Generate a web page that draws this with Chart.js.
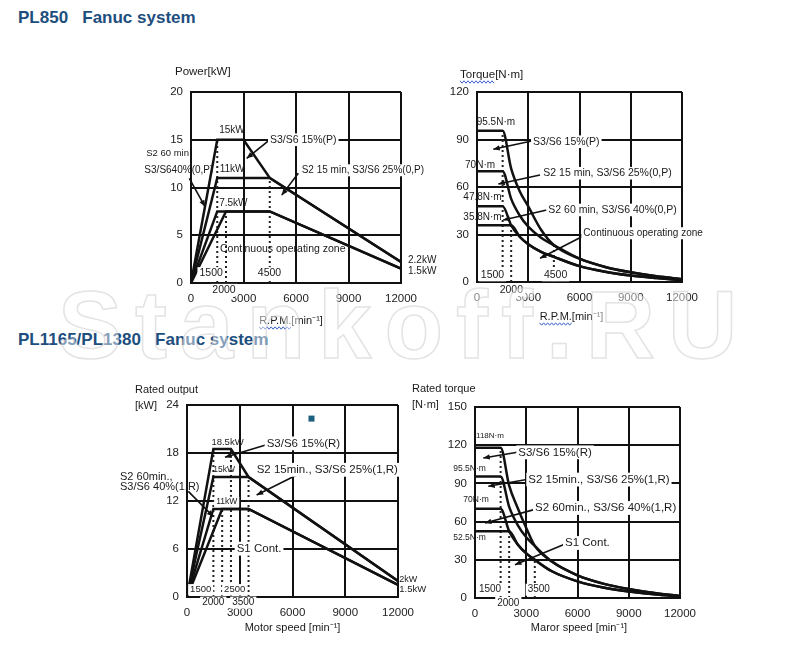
<!DOCTYPE html>
<html>
<head>
<meta charset="utf-8">
<script src="https://cdn.jsdelivr.net/npm/chart.js@4.4.1/dist/chart.umd.min.js"></script>
<style>
  html, body { margin: 0; padding: 0; background: #fff; }
  body { width: 808px; height: 663px; position: relative; overflow: hidden; font-family: "Liberation Sans", Arial, sans-serif; }
  .title { position: absolute; left: 18px; font-weight: bold; font-size: 17px; line-height: 20px; color: #1d4e7e; white-space: pre; }
  canvas { position: absolute; }
  .watermark { position: absolute; left: 58px; top: 277px; font: bold 96px "Liberation Sans", Arial, sans-serif; letter-spacing: 13px;
    line-height: 1; color: rgba(255,255,255,0.45); -webkit-text-stroke: 1.5px rgba(200,200,200,0.5); pointer-events: none; white-space: pre; }
</style>
</head>
<body>
<div class="title" style="top:8px">PL850   Fanuc system</div>
<div class="title" style="top:330px">PL1165/PL1380   Fanuc system</div>
<canvas id="pl850Power"></canvas>
<canvas id="pl850Torque"></canvas>
<canvas id="pl1165Power"></canvas>
<canvas id="pl1165Torque"></canvas>
<div class="watermark">Stankoff.RU</div>
<script>
// ---- tick labels ----
const rpmTicks = [0, 3000, 6000, 9000, 12000];
const pl850PowerTicks = [0, 5, 10, 15, 20];
const pl850TorqueTicks = [0, 30, 60, 90, 120];
const pl1165PowerTicks = [0, 6, 12, 18, 24];
const pl1165TorqueTicks = [0, 30, 60, 90, 120, 150];

// ---- PL850 power [rpm, kW] ----
const pl850PowerS3_15 = [[0, 0], [1500, 15], [3000, 15], [4500, 11], [12000, 2.2]];
const pl850PowerS2_15 = [[0, 0], [1500, 11], [4500, 11], [12000, 2.2]];
const pl850PowerS2_60 = [[0, 0], [1500, 7.5], [4500, 7.5], [12000, 1.5]];
const pl850PowerCont = [[0, 0], [2000, 7.5], [4500, 7.5], [12000, 1.5]];
const pl850PowerDrops = [[1500, 15], [2000, 7.5], [4500, 11]];

// ---- PL850 torque [rpm, N·m] ----
const pl850TorqueS3_15 = [[0, 95.5], [1500, 95.5], [2000, 71.6], [2500, 57.3], [3000, 47.7], [3750, 33], [4500, 23.3], [6000, 14.7], [7500, 9.5], [9000, 6.1], [10500, 3.6], [12000, 1.8]];
const pl850TorqueS2_15 = [[0, 70], [1500, 70], [2000, 52.5], [2500, 42], [3000, 35], [3750, 28], [4500, 23.3], [6000, 14.7], [7500, 9.5], [9000, 6.1], [10500, 3.6], [12000, 1.8]];
const pl850TorqueS2_60 = [[0, 47.8], [1500, 47.8], [2000, 35.8], [2500, 28.6], [3000, 23.9], [3750, 19.1], [4500, 15.9], [6000, 10], [7500, 6.5], [9000, 4.1], [10500, 2.5], [12000, 1.2]];
const pl850TorqueCont = [[0, 35.8], [2000, 35.8], [2500, 28.6], [3000, 23.9], [3750, 19.1], [4500, 15.9], [6000, 10], [7500, 6.5], [9000, 4.1], [10500, 2.5], [12000, 1.2]];
const pl850TorqueDrops = [[1500, 95.5], [2000, 35.8], [4500, 23]];

// ---- PL1165/PL1380 power [rpm, kW] ----
const pl1165PowerS3_15 = [[0, 0], [1500, 18.5], [2500, 18.5], [3500, 15], [12000, 2]];
const pl1165PowerS2_15 = [[0, 0], [1500, 15], [3500, 15], [12000, 2]];
const pl1165PowerS2_60 = [[0, 0], [1500, 11], [3500, 11], [12000, 1.5]];
const pl1165PowerS1 = [[0, 0], [2000, 11], [3500, 11], [12000, 1.5]];
const pl1165PowerDrops = [[1500, 18.5], [2000, 11], [2500, 18.5], [3500, 15]];

// ---- PL1165/PL1380 torque [rpm, N·m] ----
const pl1165TorqueS3_15 = [[0, 118], [1500, 118], [2000, 88.3], [2500, 70.7], [3000, 55], [3500, 40.9], [4500, 28.6], [6000, 17.8], [7500, 11.3], [9000, 7], [10500, 3.9], [12000, 1.6]];
const pl1165TorqueS2_15 = [[0, 95.5], [1500, 95.5], [2000, 71.6], [2500, 57.3], [3000, 47.7], [3500, 40.9], [4500, 28.6], [6000, 17.8], [7500, 11.3], [9000, 7], [10500, 3.9], [12000, 1.6]];
const pl1165TorqueS2_60 = [[0, 70], [1500, 70], [2000, 52.5], [2500, 42], [3000, 35], [3500, 30], [4500, 21], [6000, 13.1], [7500, 8.3], [9000, 5.1], [10500, 2.9], [12000, 1.2]];
const pl1165TorqueS1 = [[0, 52.5], [2000, 52.5], [2500, 42], [3000, 35], [3500, 30], [4500, 21], [6000, 13.1], [7500, 8.3], [9000, 5.1], [10500, 2.9], [12000, 1.2]];
const pl1165TorqueDrops = [[1500, 118], [2000, 52.5], [3500, 30]];

const FONT = '"Liberation Sans", Arial, sans-serif';

function curve(points, smooth) {
    return {
        data: points.map(p => ({ x: p[0], y: p[1] })),
        borderColor: '#111',
        borderWidth: 2.5,
        pointRadius: 0,
        fill: false,
        tension: 0,
        cubicInterpolationMode: smooth ? 'monotone' : 'default'
    };
}

function dropLines(marks) {
    return marks.map(m => ({
        data: [{ x: m[0], y: 0 }, { x: m[0], y: m[1] }],
        borderColor: '#222',
        borderWidth: 2,
        borderDash: [2, 3],
        pointRadius: 0,
        fill: false
    }));
}

// Text, arrows and axis titles drawn on top of the plot, positioned in data units
const overlay = {
    id: 'overlay',
    afterDatasetsDraw(chart, args, o) {
        const { ctx, chartArea: a } = chart;
        const px = v => chart.scales.x.getPixelForValue(v);
        const py = v => chart.scales.y.getPixelForValue(v);
        ctx.save();

        (o.arrows || []).forEach(([x0, y0, x1, y1]) => {
            const X0 = px(x0), Y0 = py(y0), X1 = px(x1), Y1 = py(y1);
            ctx.strokeStyle = '#111';
            ctx.lineWidth = 1.6;
            ctx.beginPath();
            ctx.moveTo(X0, Y0);
            ctx.lineTo(X1, Y1);
            ctx.stroke();
            const ang = Math.atan2(Y1 - Y0, X1 - X0), h = 7;
            ctx.beginPath();
            ctx.moveTo(X1, Y1);
            ctx.lineTo(X1 - h * Math.cos(ang - 0.4), Y1 - h * Math.sin(ang - 0.4));
            ctx.lineTo(X1 - h * Math.cos(ang + 0.4), Y1 - h * Math.sin(ang + 0.4));
            ctx.closePath();
            ctx.fillStyle = '#111';
            ctx.fill();
        });

        (o.marker || []).forEach(([mx, my]) => {
            ctx.fillStyle = '#1c5f7e';
            ctx.fillRect(px(mx) - 3, py(my) - 3, 6, 6);
        });

        (o.labels || []).forEach(l => {
            const size = l.size || 10.5;
            ctx.font = size + 'px ' + FONT;
            ctx.textAlign = l.align || 'left';
            ctx.textBaseline = 'middle';
            const X = px(l.x), Y = py(l.y);
            if (l.bg) {
                const w = ctx.measureText(l.text).width;
                const left = l.align === 'center' ? X - w / 2 : l.align === 'right' ? X - w : X;
                ctx.fillStyle = '#fff';
                ctx.fillRect(left - 2, Y - size * 0.6, w + 4, size * 1.2);
            }
            ctx.fillStyle = '#1a1a1a';
            ctx.fillText(l.text, X, Y);
        });

        // axis titles, offset from the plot area
        const drawTitle = (t, x, y, align) => {
            ctx.font = (t.size || 11) + 'px ' + FONT;
            ctx.textAlign = align;
            ctx.textBaseline = 'middle';
            ctx.fillStyle = '#1a1a1a';
            ctx.fillText(t.text, x, y);
            if (t.wavy) {
                const full = ctx.measureText(t.text).width;
                const w = ctx.measureText(t.wavy).width;
                const start = align === 'center' ? x - full / 2 : x;
                ctx.strokeStyle = '#3a5fcd';
                ctx.lineWidth = 1;
                ctx.beginPath();
                for (let i = 0; i <= w; i += 2) {
                    const yy = y + 7 + ((i / 2) % 2 ? 1.2 : -1.2);
                    if (i === 0) ctx.moveTo(start + i, yy); else ctx.lineTo(start + i, yy);
                }
                ctx.stroke();
            }
        };
        (o.yTitle || []).forEach(t => drawTitle(t, a.left + t.dx, a.top + t.dy, 'left'));
        if (o.xTitle) {
            const t = o.xTitle;
            drawTitle(t, (a.left + a.right) / 2 + t.dx, a.bottom + t.dy, 'center');
        }
        ctx.restore();
    }
};

function axis(min, max, ticks, isX) {
    return {
        type: 'linear',
        min: min,
        max: max,
        afterBuildTicks: s => { s.ticks = ticks.map(v => ({ value: v })); },
        afterFit: s => { if (isX) s.height = 30; else s.width = 30; },
        grid: { color: '#111', lineWidth: 2, drawTicks: false },
        border: { color: '#111', width: 2 },
        ticks: {
            padding: isX ? 9 : 8,
            color: '#222',
            font: { family: FONT, size: 11.5 },
            maxRotation: 0,
            autoSkip: false,
            callback: v => String(v)
        }
    };
}

function plotChart(id, frame, area, yMax, yTicks, datasets, overlayOpts) {
    const cv = document.getElementById(id);
    cv.width = frame.w;
    cv.height = frame.h;
    cv.style.left = frame.x + 'px';
    cv.style.top = frame.y + 'px';
    return new Chart(cv, {
        type: 'line',
        data: { datasets: datasets },
        options: {
            responsive: false,
            animation: false,
            layout: {
                padding: {
                    left: area.x0 - frame.x - 30,
                    top: area.y0 - frame.y,
                    right: frame.x + frame.w - area.x1,
                    bottom: frame.y + frame.h - area.y1 - 30
                }
            },
            plugins: {
                legend: { display: false },
                tooltip: { enabled: false },
                overlay: overlayOpts
            },
            scales: {
                x: axis(0, 12000, rpmTicks, true),
                y: axis(0, yMax, yTicks, false)
            }
        },
        plugins: [overlay]
    });
}

// ---------- PL850 power ----------
plotChart('pl850Power', { x: 110, y: 60, w: 330, h: 275 }, { x0: 191, y0: 92, x1: 401, y1: 283 }, 20, pl850PowerTicks,
    [pl850PowerS3_15, pl850PowerS2_15, pl850PowerS2_60, pl850PowerCont].map(s => curve(s, false)).concat(dropLines(pl850PowerDrops)),
    {
        labels: [
            { text: '15kW', x: 2343, y: 16.0, align: 'center', size: 10 },
            { text: 'S3/S6 15%(P)', x: 4514, y: 15, bg: true },
            { text: '11kW', x: 2350, y: 11.9, align: 'center', size: 10 },
            { text: 'S2 60 min', x: -114, y: 13.6, align: 'right', size: 9.5 },
            { text: 'S3/S640%(0,P)', x: 1274, y: 11.83, align: 'right', size: 10 },
            { text: 'S2 15 min, S3/S6 25%(0,P)', x: 6325, y: 11.8, bg: true, size: 10 },
            { text: '7.5kW', x: 2418, y: 8.35, align: 'center', size: 10 },
            { text: 'Continuous operating zone', x: 1657, y: 3.5 },
            { text: '2.2kW', x: 12400, y: 2.4, size: 10 },
            { text: '1.5kW', x: 12400, y: 1.2, size: 10 },
            { text: '1500', x: 1150, y: 1.0, align: 'center', bg: true },
            { text: '4500', x: 4485, y: 1.0, align: 'center', bg: true },
            { text: '2000', x: 1886, y: -0.75, align: 'center', bg: true }
        ],
        arrows: [
            [4474, 14.97, 3183, 13.05],
            [6131, 11.49, 5183, 9.2],
            [-97, 10.96, 800, 8.0]
        ],
        yTitle: [{ text: 'Power[kW]', dx: -16, dy: -20, size: 11.5 }],
        xTitle: { text: 'R.P.M.[min⁻¹]', dx: -5, dy: 38, wavy: 'R.P.M.' }
    });

// ---------- PL850 torque ----------
plotChart('pl850Torque', { x: 442, y: 60, w: 300, h: 275 }, { x0: 477, y0: 92, x1: 682, y1: 282 }, 120, pl850TorqueTicks,
    [pl850TorqueS3_15, pl850TorqueS2_15, pl850TorqueS2_60, pl850TorqueCont].map(s => curve(s, true)).concat(dropLines(pl850TorqueDrops)),
    {
        labels: [
            { text: '95.5N·m', x: -18, y: 100.6, size: 10 },
            { text: 'S3/S6 15%(P)', x: 3280, y: 88.6, bg: true },
            { text: '70N·m', x: -700, y: 73.9, size: 10 },
            { text: 'S2 15 min, S3/S6 25%(0,P)', x: 3880, y: 68.7, bg: true, size: 10.5 },
            { text: '47.8N·m', x: -800, y: 53.3, size: 10 },
            { text: '35.8N·m', x: -800, y: 41.2, size: 10 },
            { text: 'S2 60 min, S3/S6 40%(0,P)', x: 4175, y: 45.5, bg: true, size: 10.5 },
            { text: 'Continuous operating zone', x: 6225, y: 30.8, bg: true, size: 10 },
            { text: '1500', x: 907, y: 4.4, align: 'center', bg: true },
            { text: '4500', x: 4600, y: 4.4, align: 'center', bg: true },
            { text: '2000', x: 2010, y: -5, align: 'center', bg: true }
        ],
        arrows: [
            [3202, 89.1, 955, 83.8],
            [3688, 67.6, 1250, 61.9],
            [4080, 45.5, 1540, 39.2],
            [6223, 29.1, 3690, 15]
        ],
        yTitle: [{ text: 'Torque[N·m]', dx: -17, dy: -17, size: 11.5, wavy: 'Torque' }],
        xTitle: { text: 'R.P.M.[min⁻¹]', dx: -8, dy: 35, wavy: 'R.P.M.' }
    });

// ---------- PL1165/PL1380 power ----------
plotChart('pl1165Power', { x: 110, y: 375, w: 330, h: 280 }, { x0: 187, y0: 405, x1: 398, y1: 597 }, 24, pl1165PowerTicks,
    [pl1165PowerS3_15, pl1165PowerS2_15, pl1165PowerS2_60, pl1165PowerS1].map(s => curve(s, false)).concat(dropLines(pl1165PowerDrops)),
    {
        labels: [
            { text: '18.5kW', x: 2303, y: 19.3, align: 'center', size: 9.5 },
            { text: 'S3/S6 15%(R)', x: 4530, y: 19.2, bg: true, size: 11.5 },
            { text: '15kW', x: 2115, y: 15.9, align: 'center', size: 8.5 },
            { text: 'S2 15min., S3/S6 25%(1,R)', x: 3960, y: 15.9, bg: true, size: 11.5 },
            { text: '11kW', x: 2257, y: 11.9, align: 'center', size: 8.5, bg: true },
            { text: 'S2 60min.,', x: -3810, y: 15.04, size: 11 },
            { text: 'S3/S6 40%(1,R)', x: -3810, y: 13.8, size: 11 },
            { text: 'S1 Cont.', x: 2826, y: 6.04, bg: true, size: 11.5 },
            { text: '2kW', x: 12075, y: 2.2, size: 9 },
            { text: '1.5kW', x: 12075, y: 0.9, size: 9.5 },
            { text: '1500', x: 778, y: 0.9, align: 'center', bg: true, size: 9.5 },
            { text: '2500', x: 2712, y: 0.9, align: 'center', bg: true, size: 9.5 },
            { text: '2000', x: 1496, y: -0.7, align: 'center', bg: true, size: 10 },
            { text: '3500', x: 3200, y: -0.7, align: 'center', bg: true, size: 10 }
        ],
        arrows: [
            [4476, 19.0, 2160, 17.46],
            [6239, 15.25, 3960, 12.75],
            [74, 13.2, 1496, 10.04]
        ],
        marker: [[7080, 22.3]],
        yTitle: [{ text: 'Rated output', dx: -52, dy: -15 }, { text: '[kW]', dx: -52, dy: 1 }],
        xTitle: { text: 'Motor speed [min⁻¹]', dx: 0, dy: 31 }
    });

// ---------- PL1165/PL1380 torque ----------
plotChart('pl1165Torque', { x: 400, y: 375, w: 342, h: 280 }, { x0: 475, y0: 407, x1: 680, y1: 598 }, 150, pl1165TorqueTicks,
    [pl1165TorqueS3_15, pl1165TorqueS2_15, pl1165TorqueS2_60, pl1165TorqueS1].map(s => curve(s, true)).concat(dropLines(pl1165TorqueDrops)),
    {
        labels: [
            { text: '118N·m', x: 60, y: 127.5, size: 8 },
            { text: 'S3/S6 15%(R)', x: 2535, y: 114.4, bg: true, size: 11.5 },
            { text: '95.5N·m', x: -1270, y: 101.3, size: 8.5 },
            { text: 'S2 15min., S3/S6 25%(1,R)', x: 3120, y: 93, bg: true, size: 11.5 },
            { text: '70N·m', x: -685, y: 77.2, size: 8.5 },
            { text: 'S2 60min., S3/S6 40%(1,R)', x: 3510, y: 70.7, bg: true, size: 11.5 },
            { text: '52.5N·m', x: -1270, y: 47.1, size: 8.5 },
            { text: 'S1 Cont.', x: 5270, y: 43.2, bg: true, size: 11.5 },
            { text: '1500', x: 880, y: 6.5, align: 'center', bg: true, size: 10 },
            { text: '3500', x: 3735, y: 6.5, align: 'center', bg: true, size: 10 },
            { text: '2000', x: 1950, y: -3.9, align: 'center', bg: true, size: 10 }
        ],
        arrows: [
            [2476, 114.4, 486, 110],
            [3026, 93, 780, 87.7],
            [3512, 69.6, 585, 58.9],
            [5170, 41.9, 2340, 26.2]
        ],
        yTitle: [{ text: 'Rated torque', dx: -63, dy: -17.7 }, { text: '[N·m]', dx: -63, dy: -2 }],
        xTitle: { text: 'Maror speed [min⁻¹]', dx: 1.5, dy: 30 }
    });
</script>
</body>
</html>
